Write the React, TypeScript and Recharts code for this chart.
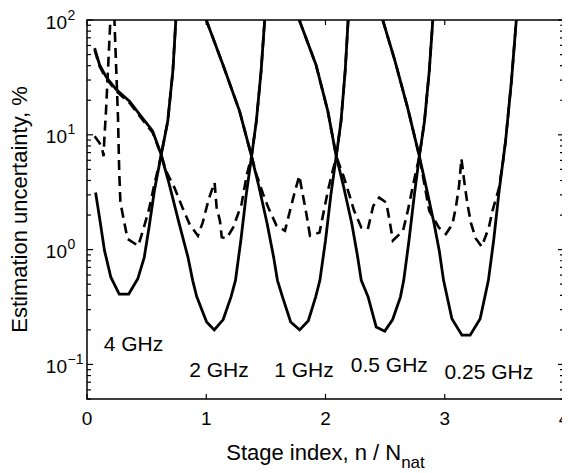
import React from "react";
import { LineChart, Line, XAxis, YAxis, ReferenceDot } from "recharts";

const FONT = "'Liberation Sans', Arial, Helvetica, sans-serif";

// ---- layout ----
const CHART_W = 560;
const CHART_H = 465;
const MARGIN = { top: 12, right: 4, bottom: 0, left: 0 };
const Y_AXIS_W = 79;
const X_AXIS_H = 74;
const PLOT_TOP = MARGIN.top;
const PLOT_RIGHT = CHART_W - MARGIN.right;

// ---- ticks ----
const xTicks = [0, 1, 2, 3, 4];
const yMajorTicks = [0.1, 1, 10, 100];
const yExponents = ["\u22121", "0", "1", "2"];
const yMinorTicks = [
  0.05, 0.06, 0.07, 0.08, 0.09,
  0.2, 0.3, 0.4, 0.5, 0.6, 0.7, 0.8, 0.9,
  2, 3, 4, 5, 6, 7, 8, 9,
  20, 30, 40, 50, 60, 70, 80, 90,
];
const yAllTicks = [...yMinorTicks, ...yMajorTicks].sort((a, b) => a - b);

// ---- theory (solid) ----
const s4x = [0.072, 0.105, 0.147, 0.2, 0.27, 0.35, 0.426, 0.48, 0.52, 0.565, 0.62, 0.677, 0.72, 0.745];
const s4y = [3.14, 1.9, 0.98, 0.575, 0.41, 0.41, 0.557, 0.857, 1.56, 3.25, 6.5, 13.1, 35.8, 100];

const s2x = [0.064, 0.105, 0.16, 0.245, 0.356, 0.454, 0.55, 0.62, 0.69, 0.774, 0.847, 0.886, 0.92, 1.003, 1.067, 1.142, 1.207, 1.245, 1.29, 1.335, 1.38, 1.42, 1.46, 1.49];
const s2y = [56.9, 40.8, 32, 24.8, 19.6, 14.5, 10.8, 6.8, 3.7, 1.67, 0.857, 0.54, 0.39, 0.234, 0.2, 0.246, 0.386, 0.54, 1.2, 3.0, 6.5, 13.1, 35.8, 100];

const s1x = [1.0, 1.14, 1.28, 1.38, 1.44, 1.51, 1.565, 1.597, 1.64, 1.708, 1.783, 1.856, 1.917, 1.953, 2.0, 2.045, 2.09, 2.13, 2.165, 2.19];
const s1y = [100, 40.8, 16, 6.5, 3.6, 1.7, 0.86, 0.54, 0.386, 0.234, 0.2, 0.24, 0.386, 0.54, 1.2, 3.0, 6.5, 13.1, 35.8, 100];

const s05x = [1.78, 1.92, 2.02, 2.09, 2.15, 2.22, 2.27, 2.3, 2.358, 2.425, 2.497, 2.563, 2.628, 2.656, 2.7, 2.745, 2.787, 2.83, 2.87, 2.9];
const s05y = [100, 40.8, 16, 6.5, 3.6, 1.7, 0.86, 0.54, 0.386, 0.212, 0.195, 0.246, 0.386, 0.54, 1.2, 3.0, 6.5, 13.1, 35.8, 100];

const s025x = [2.48, 2.58, 2.69, 2.787, 2.85, 2.91, 2.954, 2.99, 3.06, 3.144, 3.213, 3.297, 3.366, 3.41, 3.456, 3.51, 3.56, 3.6];
const s025y = [100, 45, 17, 6.5, 3.3, 1.7, 0.98, 0.54, 0.25, 0.18, 0.18, 0.25, 0.54, 1.2, 3.25, 8.8, 30, 100];

// ---- simulation (dashed) ----
const d4x = [0.064, 0.105, 0.128, 0.139, 0.146, 0.16, 0.196, 0.213, 0.23, 0.26, 0.27, 0.28, 0.34, 0.43, 0.48, 0.52, 0.565, 0.62, 0.677, 0.72, 0.745];
const d4y = [9.7, 8.5, 7.5, 6.5, 9.4, 16.6, 100, 200, 100, 14, 4.85, 2.57, 1.24, 1.08, 1.6, 2.25, 3.7, 6.5, 13.1, 35.8, 100];

const d2x = [0.064, 0.105, 0.16, 0.245, 0.356, 0.454, 0.55, 0.62, 0.663, 0.733, 0.8, 0.86, 0.93, 0.97, 1.01, 1.03, 1.07, 1.087, 1.115, 1.13, 1.17, 1.226, 1.296, 1.34, 1.38, 1.42, 1.46, 1.49];
const d2y = [55, 39.5, 31, 24, 19, 14, 10.5, 6.8, 4.84, 3.47, 2.33, 1.67, 1.32, 1.72, 2.49, 2.94, 3.84, 2.33, 1.78, 1.28, 1.25, 1.56, 2.49, 4.5, 6.5, 13.1, 35.8, 100];

const d1x = [1.0, 1.14, 1.28, 1.38, 1.42, 1.477, 1.52, 1.59, 1.66, 1.73, 1.78, 1.84, 1.87, 1.95, 2.02, 2.09, 2.13, 2.165, 2.19];
const d1y = [100, 40.8, 16, 6.5, 4.55, 3.04, 2.33, 1.61, 1.46, 2.84, 4.4, 2.04, 1.32, 1.41, 3.25, 6.5, 13.1, 35.8, 100];

const d05x = [1.78, 1.92, 2.02, 2.09, 2.15, 2.2, 2.24, 2.3, 2.355, 2.4, 2.45, 2.51, 2.54, 2.565, 2.65, 2.69, 2.73, 2.787, 2.83, 2.87, 2.9];
const d05y = [100, 40.8, 16, 6.5, 4.4, 3.0, 2.18, 1.56, 1.51, 2.4, 2.84, 2.57, 1.72, 1.2, 1.46, 2.18, 3.47, 6.5, 13.1, 35.8, 100];

const d025x = [2.48, 2.58, 2.69, 2.787, 2.87, 2.95, 3.01, 3.065, 3.095, 3.12, 3.14, 3.16, 3.19, 3.22, 3.26, 3.31, 3.37, 3.4, 3.456, 3.49, 3.51, 3.56, 3.6];
const d025y = [100, 45, 17, 6.5, 2.18, 1.56, 1.37, 1.67, 2.4, 3.6, 6.2, 4.2, 2.5, 1.7, 1.25, 1.06, 1.56, 2.18, 3.47, 6.0, 8.8, 30, 100];

// ---- annotations ----
const labelNames = ["4 GHz", "2 GHz", "1 GHz", "0.5 GHz", "0.25 GHz"];
const labelX = [0.39, 1.107, 1.82, 2.535, 3.37];
const labelY = [0.153, 0.091, 0.091, 0.099, 0.0875];

const toData = (xs: number[], ys: number[]) => xs.map((x, i) => ({ x, y: ys[i] }));

const solidSeries = [
  toData(s4x, s4y),
  toData(s2x, s2y),
  toData(s1x, s1y),
  toData(s05x, s05y),
  toData(s025x, s025y),
];
const dashedSeries = [
  toData(d4x, d4y),
  toData(d2x, d2y),
  toData(d1x, d1y),
  toData(d05x, d05y),
  toData(d025x, d025y),
];

const majorIndex = (v: number) => yMajorTicks.findIndex((m) => Math.abs(m - v) < 1e-9);

const LeftTick = (props: any) => {
  const { x, y, payload } = props;
  const idx = majorIndex(payload.value);
  const major = idx >= 0;
  const len = major ? 6 : 4;
  return (
    <g>
      <line x1={x} x2={x + len} y1={y} y2={y} stroke="#000" strokeWidth={1.2} />
      <line x1={PLOT_RIGHT} x2={PLOT_RIGHT - len} y1={y} y2={y} stroke="#000" strokeWidth={1.2} />
      {major && (
        <text x={x - 20} y={y + 8.5} textAnchor="end" fontSize={19} fontFamily={FONT} fill="#000">
          10
        </text>
      )}
      {major && (
        <text x={x - 19.5} y={y - 0.5} textAnchor="start" fontSize={14} fontFamily={FONT} fill="#000">
          {yExponents[idx]}
        </text>
      )}
    </g>
  );
};

const BottomTick = (props: any) => {
  const { x, y, payload } = props;
  return (
    <g>
      <line x1={x} x2={x} y1={y} y2={y - 5} stroke="#000" strokeWidth={1.2} />
      <line x1={x} x2={x} y1={PLOT_TOP} y2={PLOT_TOP + 5} stroke="#000" strokeWidth={1.2} />
      <text x={x} y={y + 26} textAnchor="middle" fontSize={19} fontFamily={FONT} fill="#000">
        {payload.value}
      </text>
    </g>
  );
};

// x-axis title plus the plot frame (frame derived from the axis viewBox)
const XLabel = (props: any) => {
  const vb = props.viewBox || {};
  const cx = vb.x + vb.width / 2;
  return (
    <g>
      <rect
        x={vb.x}
        y={PLOT_TOP}
        width={vb.width}
        height={vb.y - PLOT_TOP}
        fill="none"
        stroke="#000"
        strokeWidth={1.5}
      />
      <text x={cx} y={vb.y + 61} textAnchor="middle" fontSize={22} fontFamily={FONT} fill="#000">
        <tspan>Stage index, n / N</tspan>
        <tspan dy={8} fontSize={17}>nat</tspan>
      </text>
    </g>
  );
};

const YLabel = (props: any) => {
  const vb = props.viewBox || {};
  const x = vb.x + 18.7;
  const y = vb.y + vb.height / 2;
  return (
    <text x={x} y={y} transform={`rotate(-90, ${x}, ${y})`} textAnchor="middle" fontSize={22} fontFamily={FONT} fill="#000">
      Estimation uncertainty, %
    </text>
  );
};

export default function App() {
  return (
    <div style={{ width: CHART_W, height: CHART_H }}>
      <LineChart width={CHART_W} height={CHART_H} margin={MARGIN} style={{ overflow: "visible" }}>
        <XAxis
          dataKey="x"
          type="number"
          domain={[0, 4]}
          ticks={xTicks}
          allowDataOverflow
          height={X_AXIS_H}
          interval={0}
          tickLine={false}
          tickSize={0}
          tickMargin={0}
          tick={BottomTick}
          axisLine={false}
          label={XLabel}
        />
        <YAxis
          dataKey="y"
          scale="log"
          type="number"
          domain={[0.05, 100]}
          ticks={yAllTicks}
          allowDataOverflow
          width={Y_AXIS_W}
          interval={0}
          tickLine={false}
          tickSize={0}
          tickMargin={0}
          tick={LeftTick}
          axisLine={false}
          label={YLabel}
        />
        {dashedSeries.map((d, i) => (
          <Line
            key={"d" + i}
            data={d}
            dataKey="y"
            type="linear"
            stroke="#000"
            strokeWidth={2.6}
            strokeDasharray="10 6"
            dot={false}
            activeDot={false}
            isAnimationActive={false}
          />
        ))}
        {solidSeries.map((d, i) => (
          <Line
            key={"s" + i}
            data={d}
            dataKey="y"
            type="linear"
            stroke="#000"
            strokeWidth={2.8}
            dot={false}
            activeDot={false}
            isAnimationActive={false}
          />
        ))}
        {labelNames.map((name, i) => (
          <ReferenceDot
            key={"l" + i}
            x={labelX[i]}
            y={labelY[i]}
            r={0}
            ifOverflow="visible"
            shape={(p: any) => (
              <text x={p.cx} y={p.cy} dy="0.36em" textAnchor="middle" fontSize={21} fontFamily={FONT} fill="#000">
                {name}
              </text>
            )}
          />
        ))}
      </LineChart>
    </div>
  );
}
